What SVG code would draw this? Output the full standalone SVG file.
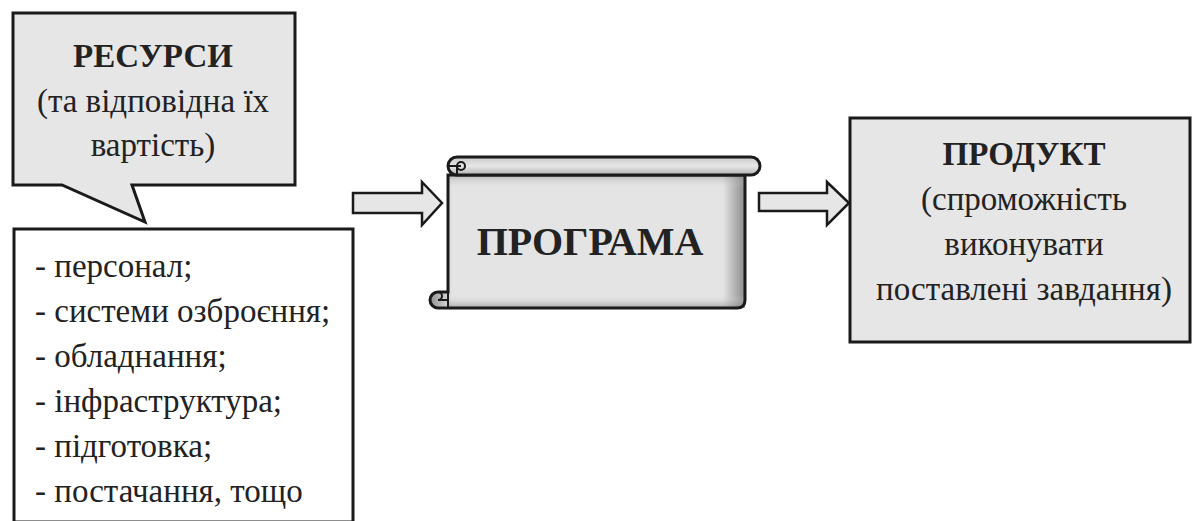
<svg xmlns="http://www.w3.org/2000/svg" width="1192" height="521" viewBox="0 0 1192 521">
  <defs>
    <style>
      .box { fill: #e6e6e6; stroke: #1a1a1a; stroke-width: 3; stroke-linejoin: miter; }
      .plain { fill: #ffffff; stroke: #1a1a1a; stroke-width: 3; }
      .arrow { fill: #e6e6e6; stroke: #1a1a1a; stroke-width: 2.5; stroke-linejoin: miter; }
      .ink { fill: none; stroke: #1a1a1a; }
      .t { fill: #222; }
      .title { font-weight: bold; }
      .mid { text-anchor: middle; }
    </style>
    <linearGradient id="shadeX" x1="0" y1="0" x2="1" y2="0">
      <stop offset="0" stop-color="#909090"/>
      <stop offset="0.07" stop-color="#e4e4e4"/>
      <stop offset="0.93" stop-color="#e4e4e4"/>
      <stop offset="1" stop-color="#8a8a8a"/>
    </linearGradient>
    <linearGradient id="shadeY" x1="0" y1="0" x2="0" y2="1">
      <stop offset="0" stop-color="#808080" stop-opacity="0.45"/>
      <stop offset="0.1" stop-color="#e4e4e4" stop-opacity="0"/>
      <stop offset="0.9" stop-color="#e4e4e4" stop-opacity="0"/>
      <stop offset="1" stop-color="#808080" stop-opacity="0.6"/>
    </linearGradient>
    <linearGradient id="rollShade" x1="0" y1="0" x2="0" y2="1">
      <stop offset="0" stop-color="#c8c8c8"/>
      <stop offset="0.5" stop-color="#e8e8e8"/>
      <stop offset="1" stop-color="#b0b0b0"/>
    </linearGradient>
  </defs>

  <!-- connectors: block arrows -->
  <g id="connectors">
    <path class="arrow" d="M353,193 H422 V182 L442,203 L422,225 V213 H353 Z"/>
    <path class="arrow" d="M759,193 H827 V182 L849,203 L827,225 V211 H759 Z"/>
  </g>

  <g font-family="Liberation Serif, serif">
    <!-- callout with resources title -->
    <g id="resources">
      <path class="box" d="M13,13 H295 V185 H132 L145,222 L62,185 H13 Z"/>
      <text class="t title mid" x="153" y="67" font-size="33">РЕСУРСИ</text>
      <text class="t mid" x="153" y="112" font-size="33">(та відповідна їх</text>
      <text class="t mid" x="153" y="156" font-size="33">вартість)</text>
    </g>

    <!-- resource list -->
    <g id="resource-list">
      <rect class="plain" x="14" y="229" width="339" height="293"/>
      <g class="t" font-size="33">
        <text x="35" y="277">- персонал;</text>
        <text x="35" y="322">- системи озброєння;</text>
        <text x="35" y="367">- обладнання;</text>
        <text x="35" y="412">- інфраструктура;</text>
        <text x="35" y="457">- підготовка;</text>
        <text x="35" y="502">- постачання, тощо</text>
      </g>
    </g>

    <!-- scroll shaped programme node -->
    <g id="programme">
      <path d="M448,175 H745 V300 Q745,308 737,308 H438 A8,8 0 0 1 438,292 H448 Z" fill="url(#shadeX)"/>
      <rect x="448" y="175" width="297" height="133" fill="url(#shadeY)"/>
      <path class="ink" d="M448,175 H745 V300 Q745,308 737,308 H438 A8,8 0 0 1 438,292 H448 Z" stroke-width="3"/>
      <path class="ink" d="M448,292 V308" stroke-width="2"/>
      <path class="ink" d="M438,292 A4,4 0 0 1 438,300 H448" stroke-width="2"/>
      <rect x="448" y="157" width="312" height="18" rx="9" ry="9" fill="url(#rollShade)" stroke="#1a1a1a" stroke-width="3"/>
      <path class="ink" d="M449,166 H461 M457,175 V166 A4,4 0 0 1 465,166 A4,4 0 0 1 457,166" stroke-width="2"/>
      <text class="t title mid" x="590" y="255" font-size="40">ПРОГРАМА</text>
    </g>

    <!-- product node -->
    <g id="product">
      <rect class="box" x="850" y="118" width="340" height="224"/>
      <text class="t title mid" x="1024" y="165" font-size="33">ПРОДУКТ</text>
      <text class="t mid" x="1024" y="210" font-size="33">(спроможність</text>
      <text class="t mid" x="1024" y="255" font-size="33">виконувати</text>
      <text class="t mid" x="1024" y="300" font-size="33">поставлені завдання)</text>
    </g>
  </g>
</svg>
